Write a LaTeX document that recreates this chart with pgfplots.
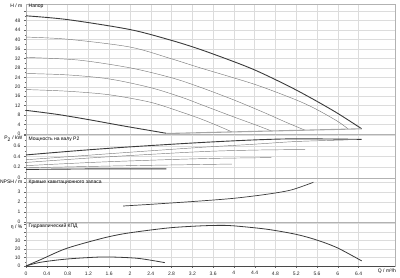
\documentclass[border=0pt]{standalone}
\usepackage{fontspec}
\setmainfont{Liberation Sans}
\usepackage{pgfplots}
\pgfplotsset{compat=1.18}
\definecolor{dk}{HTML}{3A3A3A}
\definecolor{md}{HTML}{7C7C7C}
\definecolor{gr}{HTML}{DCDCDC}
\definecolor{sep}{HTML}{4A4A4A}
\newcommand{\fs}{\fontsize{5}{6}\selectfont}
\tikzset{
  lab/.style={font=\fs, anchor=east, inner sep=0pt, xshift=-3.5pt},
  ttl/.style={font=\fs, anchor=west, inner sep=0pt, xshift=2.5pt},
}
\pgfplotsset{
  panel/.style={
    scale only axis, width=369pt, xmin=0, xmax=7.1,
    anchor=south west,
    xtick={0,0.4,0.8,1.2,1.6,2,2.4,2.8,3.2,3.6,4,4.4,4.8,5.2,5.6,6,6.4},
    grid=major,
    major grid style={draw=gr, line width=0.4pt},
    axis line style={draw=gray!60, line width=0.4pt},
    tick align=outside,
    major tick length=2pt, minor tick length=1.2pt,
    tick style={draw=black!60, line width=0.3pt},
    ytick pos=left, xtick pos=bottom,
    tick label style={font=\fs, text=black!85},
    /pgf/number format/assume math mode=true,
    clip mode=individual,
    after end axis/.code={\draw[sep, line width=0.7pt] (rel axis cs:0,0) -- (rel axis cs:1,0);},
  },
  upper/.style={xticklabels={}, xtick style={draw=none}},
  thk/.style={draw=dk, line width=0.9pt, smooth, no marks},
  thn/.style={draw=md, line width=0.45pt, smooth, no marks},
}
\begin{document}
\begin{tikzpicture}
\path[use as bounding box] (0,0) rectangle (400pt,278pt);
% ---------------- Head ----------------
\begin{axis}[panel, upper, at={(26pt,144pt)}, height=130pt,
  ymin=0, ymax=55,
  ytick={0,4,8,12,16,20,24,28,32,36,40,44,48,52},
  yticklabels={0,4,8,12,16,20,24,28,32,36,40,44,48,{}},
  minor y tick num=1]
\addplot[thk] coordinates {(0,50.0) (0.8,48.4) (2.0,44.2) (2.8,39.6) (3.35,35.8) (4.0,30.6) (4.4,27.1) (4.8,23.0) (5.2,18.6) (5.6,13.8) (6.0,8.7) (6.46,2.2)};
\addplot[thn] coordinates {(0,41.0) (0.8,40.1) (2.0,36.8) (2.8,31.8) (3.35,28.0) (4.4,21.0) (5.2,14.4) (5.6,10.3) (6.0,5.3) (6.2,2.1)};
\addplot[thn] coordinates {(0,32.4) (1.0,31.3) (2.0,28.0) (2.8,23.8) (3.35,19.8) (4.0,14.4) (4.6,8.9) (5.0,5.0) (5.37,1.6)};
\addplot[thn] coordinates {(0,25.6) (0.8,25.0) (1.6,23.3) (2.4,19.6) (3.0,15.5) (3.35,12.6) (4.0,7.2) (4.4,4.0) (4.72,1.3)};
\addplot[thn] coordinates {(0,18.8) (0.8,18.1) (1.6,16.6) (2.4,13.4) (3.0,9.2) (3.35,6.5) (3.7,3.4) (3.96,0.9)};
\addplot[thk] coordinates {(0,10.0) (0.6,8.3) (1.2,6.1) (1.8,3.7) (2.3,1.8) (2.7,0.3)};
\addplot[draw=gray!70, line width=1.1pt, no marks] coordinates {(2.7,0.2) (6.46,2.2)};
\node[lab] at (axis description cs:0,0.985) {H / m};
\node[ttl] at (axis description cs:0,0.985) {Напор};
\end{axis}
% ---------------- Power ----------------
\begin{axis}[panel, upper, at={(26pt,100pt)}, height=44pt,
  ymin=0, ymax=0.82,
  ytick={0,0.2,0.4,0.6,0.8},
  yticklabels={0,0.2,0.4,0.6,{}},
  minor y tick num=1]
\addplot[thk] coordinates {(0,0.43) (1,0.51) (2,0.58) (3.35,0.66) (4.4,0.71) (5.2,0.73) (6.46,0.72)};
\addplot[thn] coordinates {(0,0.34) (1,0.41) (2,0.48) (3.35,0.57) (4.4,0.63) (5.2,0.68) (6.2,0.71)};
\addplot[thn] coordinates {(0,0.29) (1.5,0.39) (3.35,0.49) (4.4,0.52) (5.37,0.53)};
\addplot[thn] coordinates {(0,0.23) (1.5,0.30) (3.35,0.36) (4.72,0.38)};
\addplot[thn] coordinates {(0,0.19) (2,0.23) (3.96,0.26)};
\addplot[thk] coordinates {(0,0.16) (1.4,0.17) (2.7,0.17)};
\node[lab] at (axis description cs:0,0.886) {P\textsubscript{2} / kW};
\node[ttl] at (axis description cs:0,0.886) {Мощность на валу P2};
\end{axis}
% ---------------- NPSH ----------------
\begin{axis}[panel, upper, at={(26pt,56pt)}, height=44pt,
  ymin=0, ymax=4.4,
  ytick={0,1,2,3,4},
  yticklabels={0,1,2,3,{}},
  minor y tick num=1]
\addplot[draw=dk, line width=0.7pt, smooth, no marks] coordinates {(1.87,1.6) (2.5,1.8) (3.35,2.1) (4.0,2.37) (4.63,2.77) (5.1,3.2) (5.53,3.97)};
\node[lab] at (axis description cs:0,0.909) {NPSH / m};
\node[ttl] at (axis description cs:0,0.909) {Кривые кавитационного запаса};
\end{axis}
% ---------------- Efficiency ----------------
\begin{axis}[panel, at={(26pt,12pt)}, height=44pt,
  ymin=0, ymax=52,
  ytick={0,10,20,30,40,50},
  yticklabels={0,10,20,30,{},{}},
  minor y tick num=1, minor x tick num=3]
\addplot[draw=dk, line width=0.8pt, smooth, no marks] coordinates {(0,0) (0.3,8) (0.78,20.8) (1.46,32.6) (1.87,38) (2.38,42.4) (2.83,45.5) (3.35,47.4) (3.7,48.0) (3.99,47.5) (4.63,43.5) (5.19,37.5) (5.59,30.8) (5.99,21.5) (6.46,6.0)};
\addplot[draw=dk, line width=0.8pt, smooth, no marks] coordinates {(0,0) (0.27,4.3) (0.78,8.2) (1.42,10.6) (1.8,10.3) (2.19,8.8) (2.67,4.0)};
\node[lab] at (axis description cs:0,0.885) {η / \%};
\node[ttl] at (axis description cs:0,0.91) {Гидравлический КПД};
\end{axis}
\node[font=\fs, anchor=center] at (387pt,7pt) {Q / m³/h};
\end{tikzpicture}
\end{document}
